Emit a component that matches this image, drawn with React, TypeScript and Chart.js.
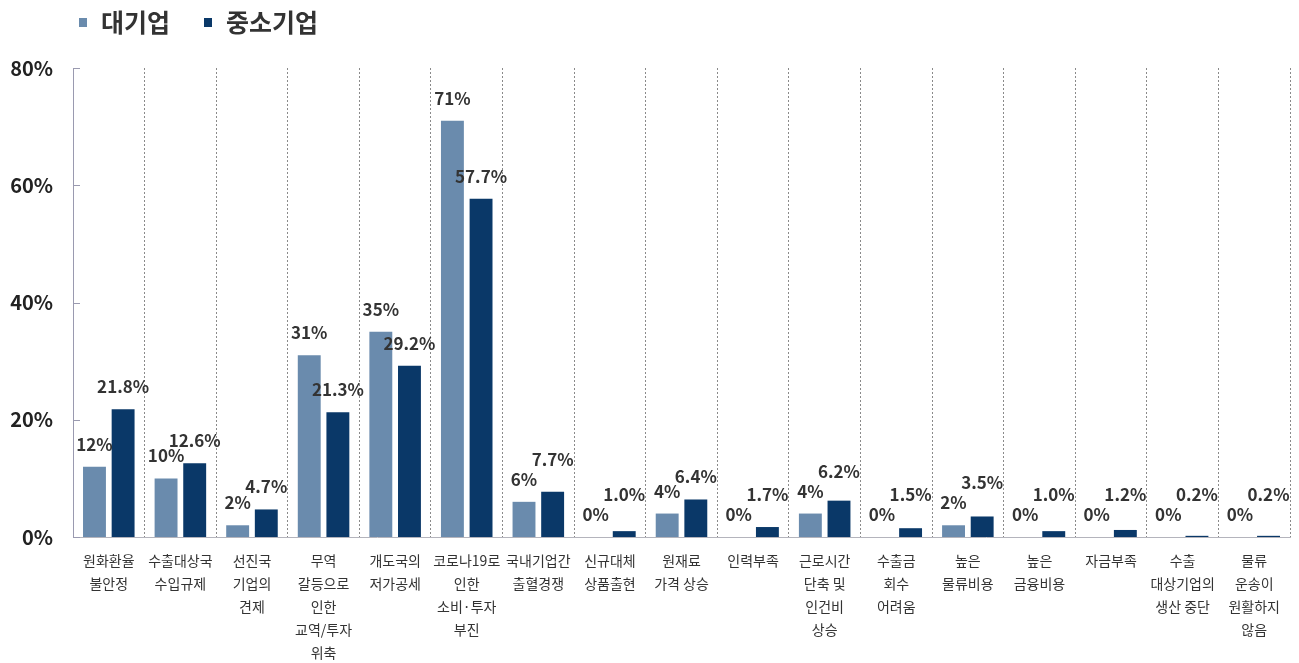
import { useEffect, useRef } from 'react';
import { Chart, registerables } from 'chart.js';

Chart.register(...registerables);

const FONT = '"Noto Sans CJK KR", "Noto Sans", sans-serif';

const categories: string[][] = [
  ['원화환율', '불안정'],
  ['수출대상국', '수입규제'],
  ['선진국', '기업의', '견제'],
  ['무역', '갈등으로', '인한', '교역/투자', '위축'],
  ['개도국의', '저가공세'],
  ['코로나19로', '인한', '소비·투자', '부진'],
  ['국내기업간', '출혈경쟁'],
  ['신규대체', '상품출현'],
  ['원재료', '가격 상승'],
  ['인력부족'],
  ['근로시간', '단축 및', '인건비', '상승'],
  ['수출금', '회수', '어려움'],
  ['높은', '물류비용'],
  ['높은', '금융비용'],
  ['자금부족'],
  ['수출', '대상기업의', '생산 중단'],
  ['물류', '운송이', '원활하지', '않음'],
];

const seriesNames = ['대기업', '중소기업'];
const largeFirms = [12, 10, 2, 31, 35, 71, 6, 0, 4, 0, 4, 0, 2, 0, 0, 0, 0];
const smeFirms = [21.8, 12.6, 4.7, 21.3, 29.2, 57.7, 7.7, 1.0, 6.4, 1.7, 6.2, 1.5, 3.5, 1.0, 1.2, 0.2, 0.2];
const yTicks = [0, 20, 40, 60, 80];

const COLORS = ['#6A8BAD', '#0A3868'];

const extrasPlugin = {
  id: 'extras',
  afterDraw(chart: any) {
    const ctx = chart.ctx as CanvasRenderingContext2D;
    const yScale = chart.scales.y;
    const area = chart.chartArea;

    // inner tick marks on y axis
    ctx.save();
    ctx.strokeStyle = '#9a9ab0';
    ctx.lineWidth = 1;
    yTicks.forEach((v) => {
      const py = Math.round(yScale.getPixelForValue(v)) + 0.5;
      ctx.beginPath();
      ctx.moveTo(area.left, py);
      ctx.lineTo(area.left + 7, py);
      ctx.stroke();
    });
    ctx.restore();

    // data labels
    ctx.save();
    ctx.font = `bold 17px ${FONT}`;
    ctx.fillStyle = '#333333';
    ctx.textAlign = 'center';
    ctx.textBaseline = 'alphabetic';
    const m0 = chart.getDatasetMeta(0).data;
    const m1 = chart.getDatasetMeta(1).data;
    categories.forEach((_, i) => {
      const t0 = `${largeFirms[i]}%`;
      const t1 = `${smeFirms[i].toFixed(1)}%`;
      const b0 = m0[i];
      const b1 = m1[i];
      const y0 = b0.y - 16;
      let y1 = b1.y - 16;
      const w0 = ctx.measureText(t0).width;
      const w1 = ctx.measureText(t1).width;
      const hGap = (b1.x - w1 / 2) - (b0.x + w0 / 2);
      if (Math.abs(y1 - y0) < 14 && hGap < 1) {
        y1 = y0 - 20;
      }
      ctx.fillText(t0, b0.x, y0);
      ctx.fillText(t1, b1.x, y1);
    });
    ctx.restore();

    // legend
    ctx.save();
    ctx.font = `bold 25px ${FONT}`;
    ctx.textBaseline = 'middle';
    ctx.textAlign = 'left';
    let x = 79;
    const cy = 22;
    seriesNames.forEach((name, i) => {
      ctx.fillStyle = COLORS[i];
      ctx.fillRect(x, cy - 4, 8, 9);
      ctx.fillStyle = '#333333';
      ctx.fillText(name, x + 22, cy);
      x += 22 + ctx.measureText(name).width + 34;
    });
    ctx.restore();
  },
};

export default function App() {
  const ref = useRef<HTMLCanvasElement | null>(null);

  useEffect(() => {
    document.body.style.margin = '0';
    const canvas = ref.current;
    if (!canvas) return;
    const chart = new Chart(canvas, {
      type: 'bar',
      data: {
        labels: categories,
        datasets: [
          {
            label: seriesNames[0],
            data: largeFirms,
            backgroundColor: COLORS[0],
            barPercentage: 0.8,
            categoryPercentage: 0.8,
          },
          {
            label: seriesNames[1],
            data: smeFirms,
            backgroundColor: COLORS[1],
            barPercentage: 0.8,
            categoryPercentage: 0.8,
          },
        ],
      },
      options: {
        animation: false,
        responsive: false,
        maintainAspectRatio: false,
        layout: { padding: { top: 68, right: 9, left: 0, bottom: 0 } },
        plugins: {
          legend: { display: false },
          tooltip: { enabled: false },
        },
        scales: {
          x: {
            grid: {
              offset: true,
              display: true,
              drawOnChartArea: true,
              drawTicks: false,
              color: '#8a8a8a',
              lineWidth: 1,
            },
            border: { display: true, color: '#b4b4bc', width: 1, dash: [2, 2] },
            ticks: {
              autoSkip: false,
              maxRotation: 0,
              minRotation: 0,
              color: '#333333',
              padding: 12,
              font: { family: FONT, size: 14, lineHeight: 1.65 },
            },
            afterFit: (s: any) => {
              s.height = 126;
            },
          },
          y: {
            min: 0,
            max: 80,
            afterBuildTicks: (s: any) => {
              s.ticks = yTicks.map((v) => ({ value: v }));
            },
            grid: { display: false, drawTicks: false },
            border: { display: true, color: '#9a9ab0', width: 1 },
            ticks: {
              color: '#222222',
              padding: 20,
              font: { family: FONT, size: 20, weight: 'bold' },
              callback: (v: any) => `${v}%`,
            },
            afterFit: (s: any) => {
              s.width = 73;
            },
          },
        },
      },
      plugins: [extrasPlugin],
    });
    return () => chart.destroy();
  }, []);

  return <canvas ref={ref} width={1299} height={663} style={{ display: 'block' }} />;
}
